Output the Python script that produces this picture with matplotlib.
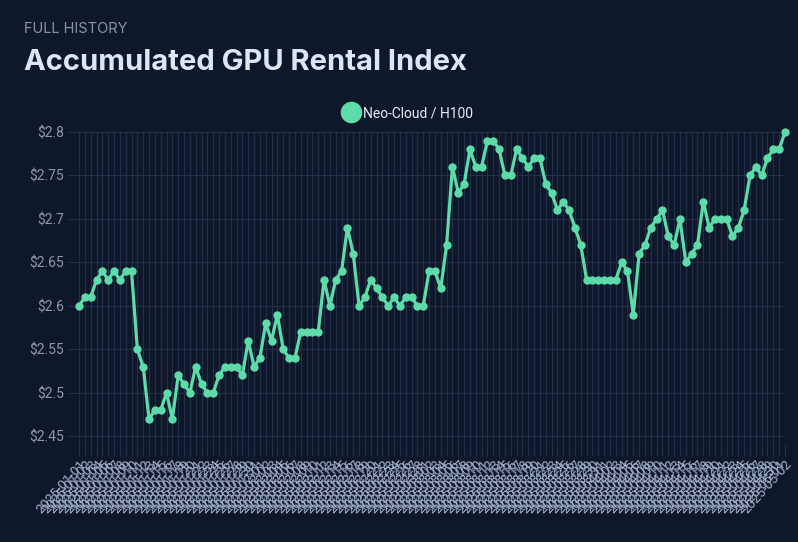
import numpy as np
import matplotlib.pyplot as plt
import pandas as pd

# Index values (one point per day)
index_values = [
    2.60, 2.61, 2.61, 2.63, 2.64, 2.63, 2.64, 2.63, 2.64, 2.64, 2.55, 2.53, 2.47,
    2.48, 2.48, 2.50, 2.47, 2.52, 2.51, 2.50, 2.53, 2.51, 2.50, 2.50, 2.52,
    2.53, 2.53, 2.53, 2.52, 2.56, 2.53, 2.54, 2.58, 2.56, 2.59, 2.55, 2.54,
    2.54, 2.57, 2.57, 2.57, 2.57, 2.63, 2.60, 2.63, 2.64, 2.69, 2.66, 2.60,
    2.61, 2.63, 2.62, 2.61, 2.60, 2.61, 2.60, 2.61, 2.61, 2.60, 2.60, 2.64,
    2.64, 2.62, 2.67, 2.76, 2.73, 2.74, 2.78, 2.76, 2.76, 2.79, 2.79, 2.78,
    2.75, 2.75, 2.78, 2.77, 2.76, 2.77, 2.77, 2.74, 2.73, 2.71, 2.72, 2.71,
    2.69, 2.67, 2.63, 2.63, 2.63, 2.63, 2.63, 2.63, 2.65, 2.64, 2.59, 2.66,
    2.67, 2.69, 2.70, 2.71, 2.68, 2.67, 2.70, 2.65, 2.66, 2.67, 2.72, 2.69,
    2.70, 2.70, 2.70, 2.68, 2.69, 2.71, 2.75, 2.76, 2.75, 2.77, 2.78, 2.78, 2.80,
]
date_labels = list(pd.date_range('2025-01-01', periods=len(index_values), freq='D').strftime('%Y-%m-%d'))
y_ticks = [2.45, 2.5, 2.55, 2.6, 2.65, 2.7, 2.75, 2.8]
y_tick_labels = ['$2.45', '$2.5', '$2.55', '$2.6', '$2.65', '$2.7', '$2.75', '$2.8']
series_name = 'Neo-Cloud / H100'

bg = '#0f182b'
line_color = '#5ddcaa'
grid_color = '#233049'

W, H = 798, 542
fig = plt.figure(figsize=(W / 100, H / 100), dpi=100, facecolor=bg)
ax = fig.add_axes([79 / W, 1 - 445 / H, (785 - 79) / W, (445 - 132) / H], facecolor=bg)

x = np.arange(len(index_values))
ax.plot(x, index_values, color=line_color, lw=2.3, marker='o', ms=5,
        markerfacecolor=line_color, markeredgecolor=line_color, label=series_name,
        zorder=3, clip_on=False)

ax.set_xlim(0, len(index_values) - 1)
ax.set_ylim(2.44, 2.80)
ax.set_yticks(y_ticks)
ax.set_yticklabels(y_tick_labels, fontfamily='Roboto', fontsize=10, color='#8d98ad')
ax.set_xticks(x)
ax.set_xticklabels(date_labels, rotation=48, ha='right', rotation_mode='anchor',
                   fontfamily='Roboto', fontsize=9.5, color='#a3b1cc')

ax.grid(True, color=grid_color, lw=0.8)
ax.tick_params(axis='both', color=grid_color, length=8, width=0.8)
ax.tick_params(axis='y', pad=3)
ax.tick_params(axis='x', pad=1)
for s in ax.spines.values():
    s.set_visible(False)

# header texts
fig.text(24 / W, 1 - 29 / H, 'FULL HISTORY', fontfamily='Inter', fontsize=10.5,
         color='#8a94a8', va='center', ha='left')
fig.text(24 / W, 1 - 62 / H, 'Accumulated GPU Rental Index', fontfamily='Inter',
         fontweight='bold', fontsize=21, color='#dde6f7', va='center', ha='left')

leg = fig.legend(loc='center', bbox_to_anchor=(412 / W, 1 - 113 / H), frameon=False,
                 handlelength=0, handletextpad=0.9, markerscale=2.9,
                 prop={'family': 'Roboto', 'size': 10})
for h in leg.legend_handles:
    h.set_linestyle('none')
for t in leg.get_texts():
    t.set_color('#e6ecf7')

plt.savefig('out.png', dpi=100, facecolor=bg)
